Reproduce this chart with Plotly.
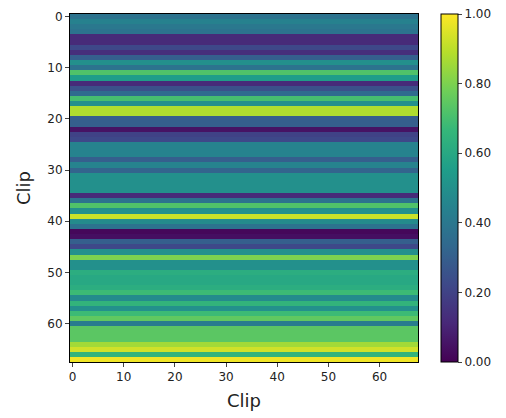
import numpy as np
import plotly.graph_objects as go

# per-clip row values (rows are near-constant across columns)
row_values = [
    0.38, 0.44, 0.40, 0.38, 0.12, 0.12, 0.22, 0.13, 0.30, 0.50,
    0.38, 0.72, 0.55, 0.12, 0.25, 0.35, 0.70, 0.50, 0.88, 0.88,
    0.30, 0.30, 0.05, 0.20, 0.22, 0.45, 0.45, 0.45, 0.30, 0.45,
    0.32, 0.50, 0.50, 0.50, 0.50, 0.12, 0.38, 0.72, 0.50, 0.92,
    0.48, 0.38, 0.02, 0.04, 0.30, 0.22, 0.50, 0.80, 0.50, 0.50,
    0.62, 0.60, 0.60, 0.62, 0.68, 0.48, 0.65, 0.50, 0.68, 0.75,
    0.42, 0.74, 0.74, 0.74, 0.86, 0.93, 0.65, 0.98,
]
clips = list(range(len(row_values)))
tick_vals = [0, 10, 20, 30, 40, 50, 60]
cbar_ticks = [0.0, 0.2, 0.4, 0.6, 0.8, 1.0]

z = [[v for _ in clips] for v in row_values]

font = "DejaVu Sans"
fig = go.Figure(go.Heatmap(
    z=z, x=clips, y=clips, colorscale="Viridis", zmin=0, zmax=1,
    colorbar=dict(
        x=(441 - 70) / 348, xanchor="left", xref="paper", xpad=0, ypad=0,
        y=0.5, yanchor="middle", len=1, lenmode="fraction",
        thickness=17, outlinewidth=1, outlinecolor="black",
        tickvals=cbar_ticks, tickformat=".2f", ticks="outside", ticklen=4,
        tickfont=dict(family=font, size=12, color="#222"),
    ),
))
fig.update_layout(
    width=506, height=418, margin=dict(l=70, r=88, t=14, b=56, autoexpand=False),
    paper_bgcolor="white", plot_bgcolor="white",
    font=dict(family=font, size=12, color="#222"),
    xaxis=dict(range=[-0.5, 67.5], tickvals=tick_vals, ticks="outside", ticklen=4,
               showline=True, mirror=True, linecolor="black", linewidth=1,
               showgrid=False, zeroline=False, automargin=False,
               title=dict(text="Clip", font=dict(size=18, family=font), standoff=10)),
    yaxis=dict(range=[67.5, -0.5], tickvals=tick_vals, ticks="outside", ticklen=4,
               showline=True, mirror=True, linecolor="black", linewidth=1,
               showgrid=False, zeroline=False, automargin=False,
               title=dict(text="Clip", font=dict(size=18, family=font), standoff=12)),
)
fig.write_html("out.html")
